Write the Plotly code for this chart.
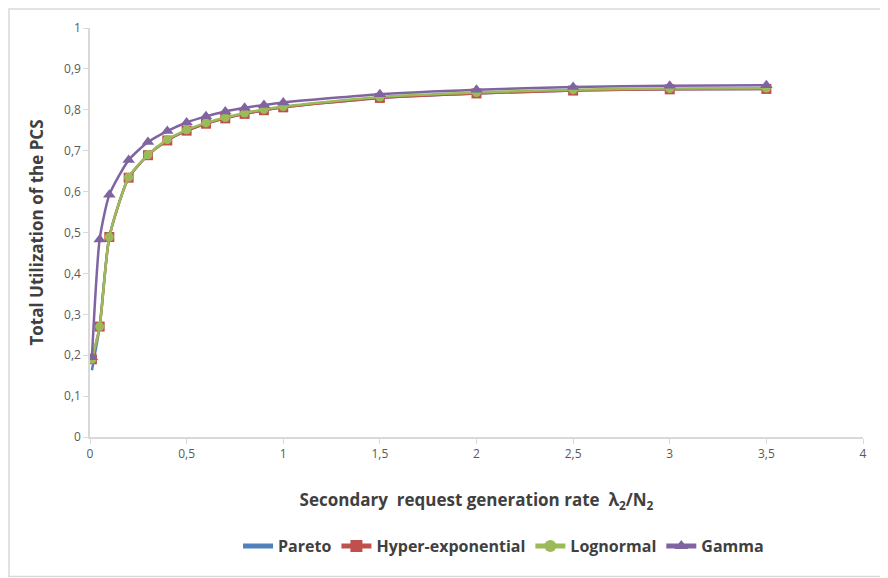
import plotly.graph_objects as go

x_vals = [0.01, 0.05, 0.1, 0.2, 0.3, 0.4, 0.5, 0.6, 0.7, 0.8, 0.9, 1.0, 1.5, 2.0, 2.5, 3.0, 3.5]
pareto = [0.163, 0.27, 0.489, 0.634, 0.689, 0.725, 0.749, 0.766, 0.779, 0.790, 0.799, 0.806, 0.829, 0.840, 0.847, 0.850, 0.851]
hyper_exp = [0.19, 0.27, 0.489, 0.634, 0.689, 0.725, 0.749, 0.766, 0.779, 0.790, 0.799, 0.806, 0.829, 0.840, 0.847, 0.850, 0.851]
lognormal = [0.19, 0.27, 0.489, 0.635, 0.690, 0.727, 0.751, 0.768, 0.781, 0.792, 0.801, 0.808, 0.831, 0.842, 0.849, 0.852, 0.853]
gamma = [0.195, 0.483, 0.592, 0.677, 0.721, 0.748, 0.769, 0.784, 0.796, 0.805, 0.812, 0.818, 0.838, 0.849, 0.856, 0.859, 0.860]

x_ticks = [0, 0.5, 1, 1.5, 2, 2.5, 3, 3.5, 4]
y_ticks = [0, 0.1, 0.2, 0.3, 0.4, 0.5, 0.6, 0.7, 0.8, 0.9, 1]

FONT = "'Open Sans', Lato, sans-serif"
# page body has an 8px margin; figure occupies page x 8..888, y 8..578
W, H = 880, 570
ML, MR, MT, MB = 82, 25, 20, 141

fig = go.Figure()
fig.add_trace(go.Scatter(x=x_vals, y=pareto, name="Pareto", mode="lines",
                         line=dict(color="#4F81BD", width=2.5, shape="spline", smoothing=0.6)))
fig.add_trace(go.Scatter(x=x_vals, y=hyper_exp, name="Hyper-exponential", mode="lines+markers",
                         line=dict(color="#C0504D", width=2.5, shape="spline", smoothing=0.6),
                         marker=dict(symbol="square", size=10, color="#C0504D")))
fig.add_trace(go.Scatter(x=x_vals, y=lognormal, name="Lognormal", mode="lines+markers",
                         line=dict(color="#9BBB59", width=2.5, shape="spline", smoothing=0.6),
                         marker=dict(symbol="circle", size=9, color="#9BBB59")))
fig.add_trace(go.Scatter(x=x_vals, y=gamma, name="Gamma", mode="lines+markers",
                         line=dict(color="#8064A2", width=2.5, shape="spline", smoothing=0.6),
                         marker=dict(symbol="triangle-up", size=11, color="#8064A2")))

pw = W - ML - MR
ph = H - MT - MB
fig.add_shape(type="rect", xref="paper", yref="paper",
              x0=(1 - ML) / pw, x1=(W + 20 - ML) / pw,
              y0=-(H - 1.5 - MT - ph) / ph, y1=1 + (MT - 1) / ph,
              line=dict(color="#D9D9D9", width=1.5), layer="below")

fig.update_layout(
    width=W, height=H,
    margin=dict(l=ML, r=MR, t=MT, b=MB),
    paper_bgcolor="white", plot_bgcolor="white",
    separators=",.",
    font=dict(family=FONT, size=12, color="#595959"),
    showlegend=True,
    legend=dict(orientation="h", x=0.535, xanchor="center", y=-0.267, yanchor="middle",
                font=dict(family=FONT, size=16, color="#404040"),
                itemwidth=30, tracegroupgap=0, itemsizing="constant"),
    xaxis=dict(range=[0, 4], tickvals=x_ticks, showgrid=False, zeroline=False,
               showline=True, linecolor="#D9D9D9", linewidth=1.5,
               ticks="outside", ticklen=5, tickcolor="#D9D9D9",
               tickfont=dict(size=12, color="#595959"),
               title=dict(text="<b>Secondary  request generation rate  λ<sub>2</sub>/N<sub>2</sub></b>",
                          font=dict(size=17, color="#404040"), standoff=33)),
    yaxis=dict(range=[0, 1], tickvals=y_ticks, showgrid=False, zeroline=False,
               showline=True, linecolor="#D9D9D9", linewidth=1.5,
               ticks="outside", ticklen=5, tickcolor="#D9D9D9",
               tickfont=dict(size=12, color="#595959"),
               title=dict(text="<b>Total Utilization of the PCS</b>",
                          font=dict(size=17, color="#404040"), standoff=16)),
)

for tr in fig.data:
    tr.name = "<b>" + tr.name + "</b>"

fig.write_html("out.html")
